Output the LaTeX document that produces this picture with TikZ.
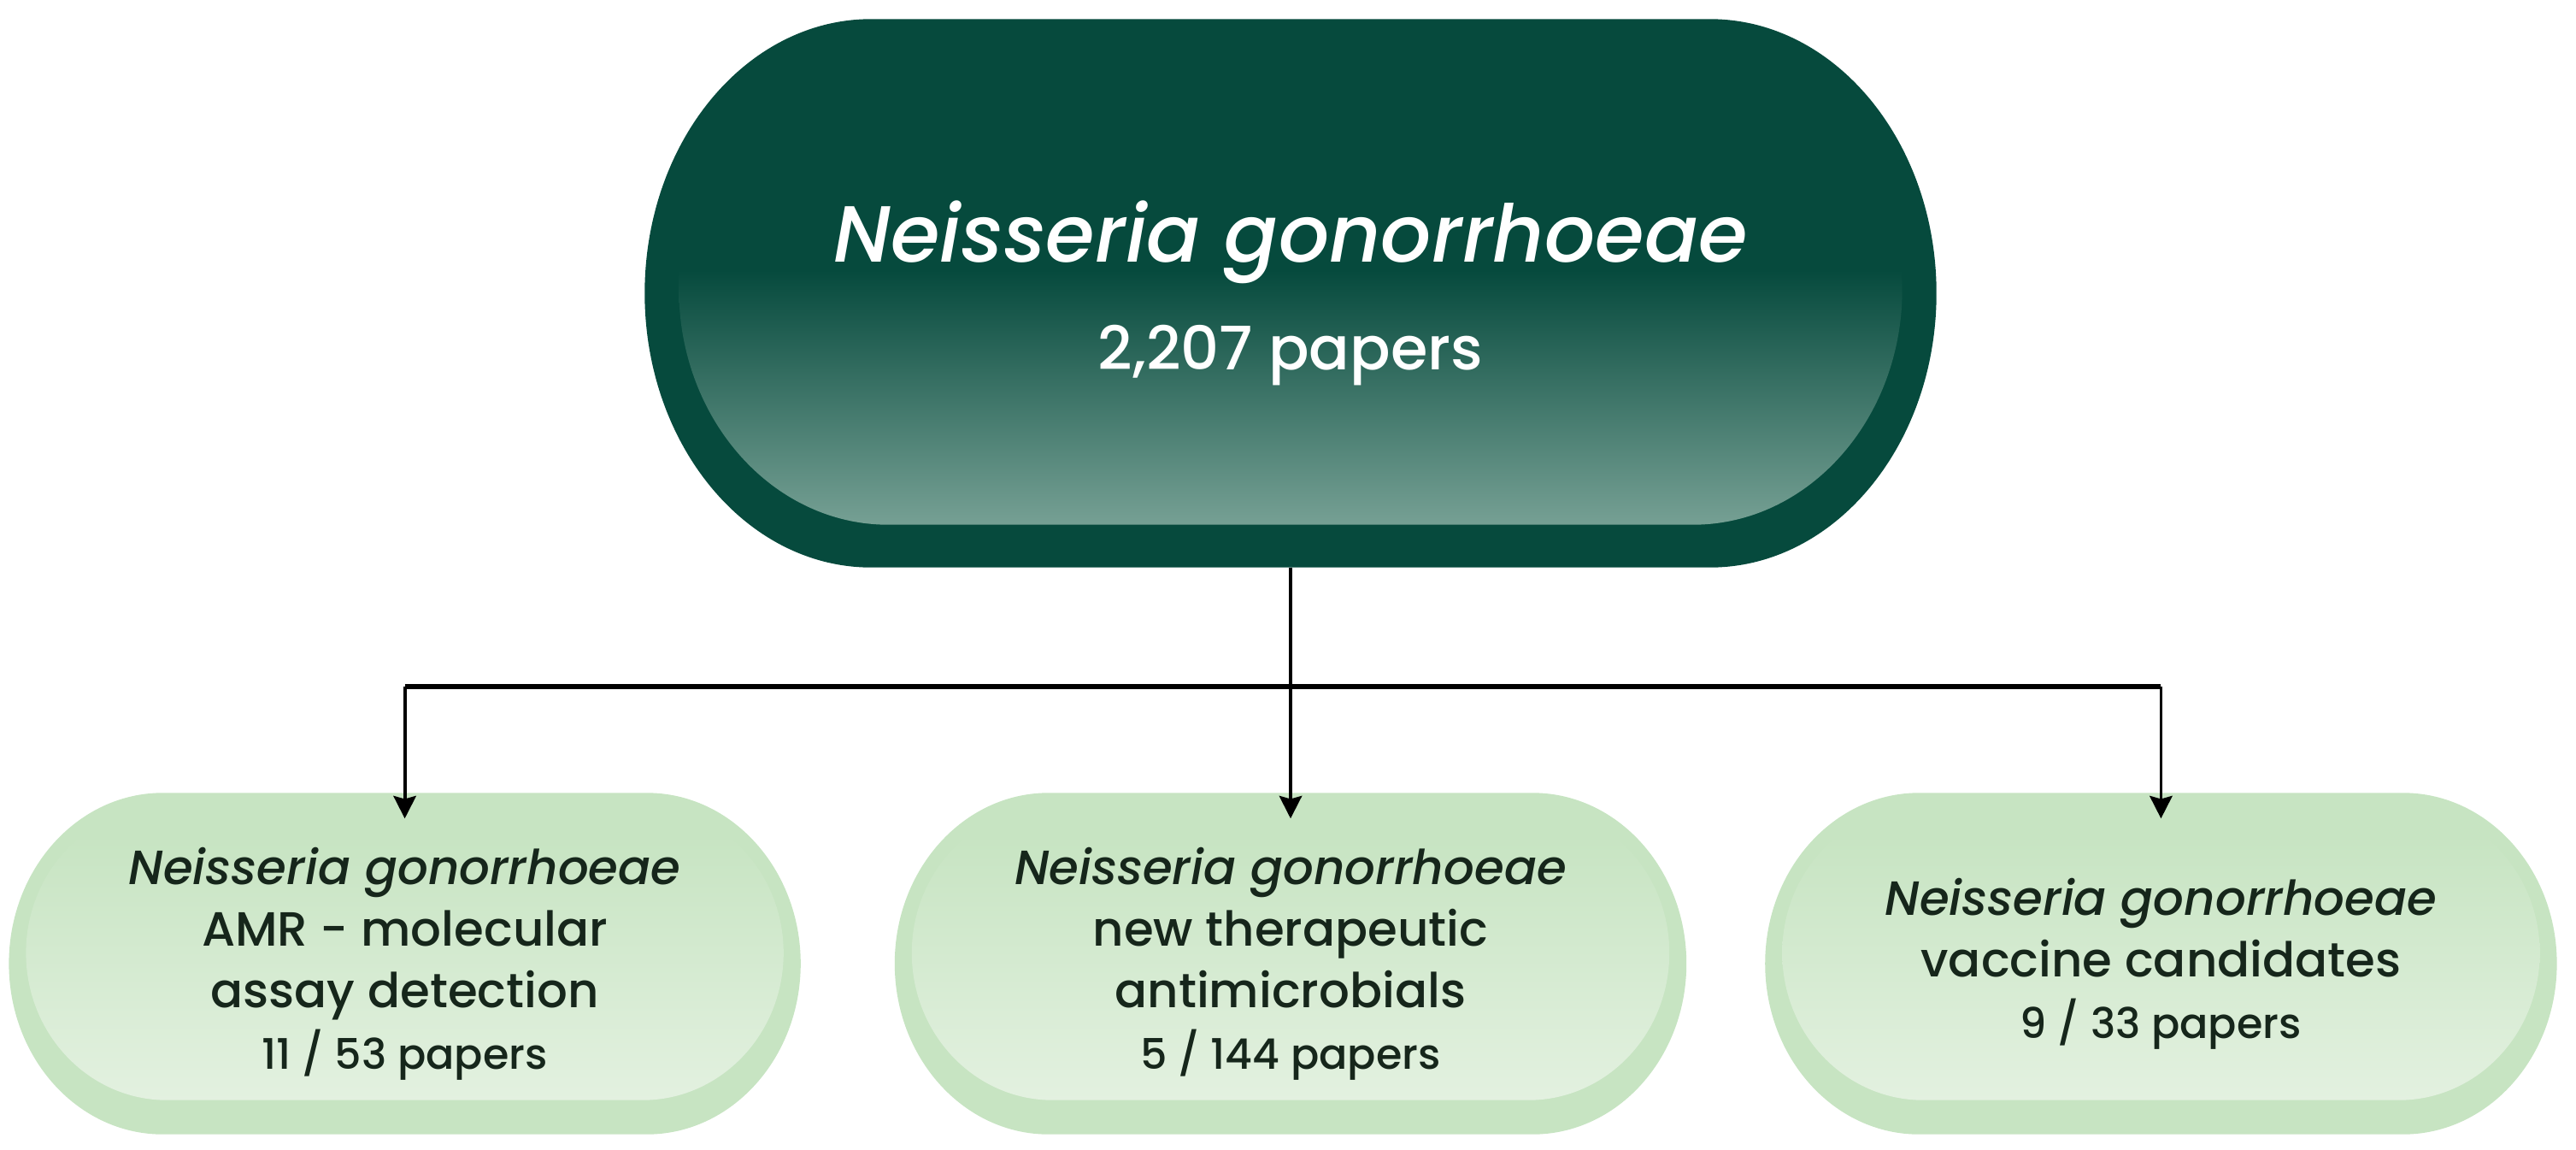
\documentclass[tikz,border=0pt]{standalone}
\usepackage{fontspec}
\setmainfont{Poppins}[UprightFont={Poppins Medium}, ItalicFont={Poppins Medium Italic}]
\usetikzlibrary{positioning,arrows.meta,calc,backgrounds}

\definecolor{verdescuro}{HTML}{064A3D}
\definecolor{verdechiaro}{HTML}{76A094}
\definecolor{menta}{HTML}{C7E4C2}
\definecolor{mentachiaro}{HTML}{E3F1E0}
\definecolor{testoscuro}{HTML}{16261B}

\pgfdeclareverticalshading{sfumatura}{100bp}{color(0bp)=(verdechiaro); color(25bp)=(verdechiaro); color(52bp)=(verdescuro); color(100bp)=(verdescuro)}
\pgfdeclareverticalshading{sfumaturamenta}{100bp}{color(0bp)=(mentachiaro); color(25bp)=(mentachiaro); color(70bp)=(menta); color(100bp)=(menta)}

% pillola: #1 stile, #2 nodo, #3 raggio x, #4 rientro sw, #5 rientro ne
\newcommand{\pillola}[5]{%
  \path[#1] let \p1=($(#2.south west)+#4$), \p2=($(#2.north east)+#5$) in
    ({\x1+#3},\y2) -- ({\x2-#3},\y2)
    arc[start angle=90,end angle=-90,x radius=#3,y radius={(\y2-\y1)/2}]
    -- ({\x1+#3},\y1)
    arc[start angle=270,end angle=90,x radius=#3,y radius={(\y2-\y1)/2}] -- cycle;}

\tikzset{
  radice/.style={minimum width=15.1cm, minimum height=6.4cm, align=center,
    text=white, font=\fontsize{26.5}{30}\selectfont},
  ramo/.style={minimum width=9.25cm, minimum height=3.98cm, align=center,
    text=testoscuro, font=\fontsize{16}{20.5}\selectfont},
  numeri/.style={font=\fontsize{14}{17}\selectfont},
  filo/.style={line width=1.1pt, black},
  barra/.style={line width=1.8pt, black},
  freccia/.style={filo, -{Stealth[length=7.5pt,width=7.5pt,inset=1pt]}}
}

\begin{document}
\begin{tikzpicture}
  \useasboundingbox (0,0) rectangle (30.14,13.44);

  % nodo principale
  \node[radice] (ng) at (15.1,10.01) {\textit{Neisseria gonorrhoeae}\\[6pt]
    {\fontsize{20}{24}\selectfont 2,207 papers}};

  % rami
  \node[ramo] (terapia) at (15.1,2.17) {\textit{Neisseria gonorrhoeae}\\new therapeutic\\antimicrobials\\
    {\fontsize{14}{17}\selectfont 5 / 144 papers}};
  \node[ramo, left=1.1cm of terapia] (amr) {\textit{Neisseria gonorrhoeae}\\AMR - molecular\\assay detection\\
    {\fontsize{14}{17}\selectfont 11 / 53 papers}};
  \node[ramo, right=0.92cm of terapia] (vaccini) {\textit{Neisseria gonorrhoeae}\\vaccine candidates\\
    {\fontsize{14}{17}\selectfont 9 / 33 papers}};

  % sfondi
  \begin{pgfonlayer}{background}
    \pillola{fill=verdescuro}{ng}{2.65cm}{(0,0)}{(0,0)}
    \pillola{shading=sfumatura}{ng}{2.45cm}{(0.4cm,0.5cm)}{(-0.4cm,-0.4cm)}
    \foreach \r in {amr,terapia,vaccini}{
      \pillola{fill=menta}{\r}{1.8cm}{(0,0)}{(0,0)}
      \pillola{shading=sfumaturamenta}{\r}{1.65cm}{(0.2cm,0.4cm)}{(-0.2cm,-0.15cm)}
    }
  \end{pgfonlayer}

  % collegamenti
  \coordinate (snodo) at (15.1,5.41);
  \draw[freccia] (ng.south) -- ([yshift=-0.3cm]terapia.north);
  \draw[barra] (amr.north |- snodo) -- (vaccini.north |- snodo);
  \draw[freccia] (amr.north |- snodo) -- ([yshift=-0.3cm]amr.north);
  \draw[freccia] (vaccini.north |- snodo) -- ([yshift=-0.3cm]vaccini.north);
\end{tikzpicture}
\end{document}
